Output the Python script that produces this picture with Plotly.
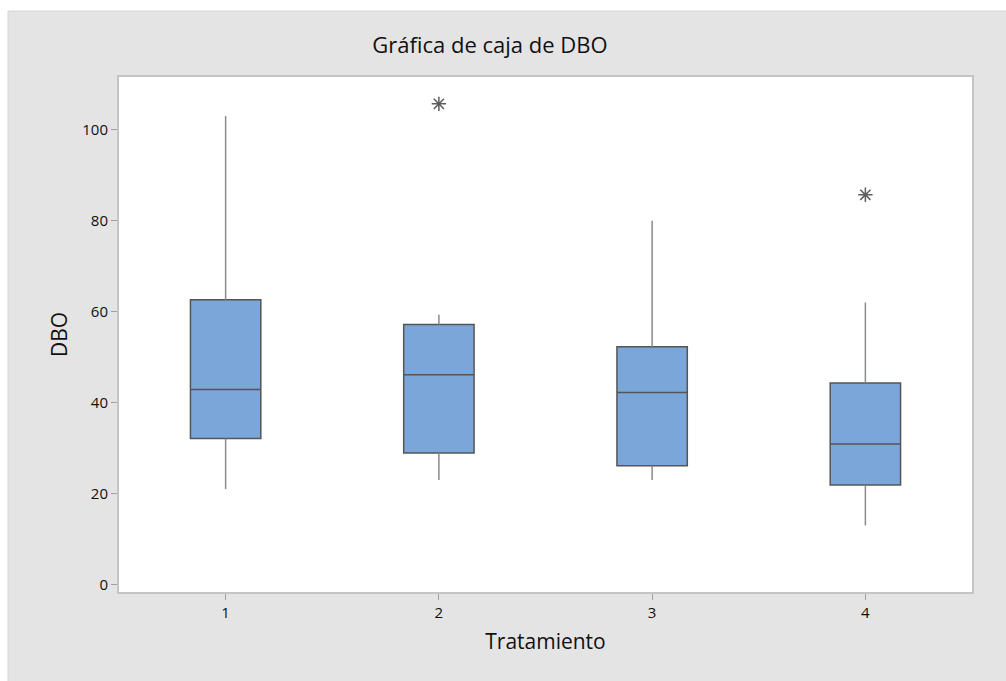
import plotly.graph_objects as go

# Box-plot summary of DBO per treatment
tratamientos = [1, 2, 3, 4]
minimo = [21.0, 23.0, 23.0, 13.0]
q1 = [32.1, 28.9, 26.1, 21.9]
mediana = [42.9, 46.1, 42.2, 30.9]
q3 = [62.6, 57.2, 52.3, 44.3]
maximo = [103.0, 59.3, 80.0, 62.0]

# Outliers (treatment, value)
atipicos_x = [2, 4]
atipicos_y = [105.7, 85.7]

y_ticks = [0, 20, 40, 60, 80, 100]

FONT = "Open Sans"
W, H = 1006, 681
L, R, T, B = 119, 34, 77, 89
pw, ph = W - L - R, H - T - B

# Whiskers as vertical segments from the data
wx, wy = [], []
for x, lo, a, b, hi in zip(tratamientos, minimo, q1, q3, maximo):
    wx += [x, x, None, x, x, None]
    wy += [hi, b, None, a, lo, None]

fig = go.Figure()
fig.add_trace(go.Scatter(
    x=wx, y=wy, mode="lines",
    line=dict(color="#8a8a8a", width=1.5),
    hoverinfo="skip", showlegend=False,
))
fig.add_trace(go.Box(
    x=tratamientos, q1=q1, median=mediana, q3=q3,
    lowerfence=q1, upperfence=q3,
    width=0.33, boxpoints=False,
    fillcolor="#7ba6d9",
    line=dict(color="#555555", width=1.5),
    showlegend=False,
))
fig.add_trace(go.Scatter(
    x=atipicos_x, y=atipicos_y, mode="markers",
    marker=dict(symbol="asterisk-open", size=12, color="#5e5e5e",
                line=dict(color="#5e5e5e", width=1.5)),
    showlegend=False,
))

# Grey panel behind the chart and white plotting area
fig.add_shape(type="rect", xref="paper", yref="paper", layer="below",
              x0=(8 - L) / pw, x1=(W + 10 - L) / pw,
              y0=-(B + 10) / ph, y1=(ph + T - 11) / ph,
              fillcolor="#e4e4e4", line=dict(color="#d6d6d6", width=1))
fig.add_shape(type="rect", xref="paper", yref="paper", layer="below",
              x0=0, x1=1, y0=0, y1=1,
              fillcolor="white", line=dict(width=0))

axis_common = dict(
    showgrid=False, zeroline=False,
    showline=True, mirror=True, linecolor="#c4c4c4", linewidth=2,
    ticks="outside", ticklen=6, tickwidth=1, tickcolor="#a0a0a0",
    tickfont=dict(family=FONT, size=15, color="#111111"),
)

fig.update_layout(
    width=W, height=H,
    margin=dict(l=L, r=R, t=T, b=B, pad=0),
    paper_bgcolor="white", plot_bgcolor="white",
    title=dict(text="Gráfica de caja de DBO", x=0.487, xref="container",
               xanchor="center", y=1 - 45 / H, yanchor="middle",
               font=dict(family=FONT, size=22, color="#111111")),
    xaxis=dict(range=[0.5, 4.5], tickvals=tratamientos,
               ticktext=[str(t) for t in tratamientos],
               title=dict(text="Tratamiento", standoff=13,
                          font=dict(family=FONT, size=21, color="#111111")),
               **axis_common),
    yaxis=dict(range=[-1.65, 111.6], tickvals=y_ticks,
               title=dict(text="DBO", standoff=9,
                          font=dict(family=FONT, size=21, color="#111111")),
               **axis_common),
)

fig.write_html("out.html")
